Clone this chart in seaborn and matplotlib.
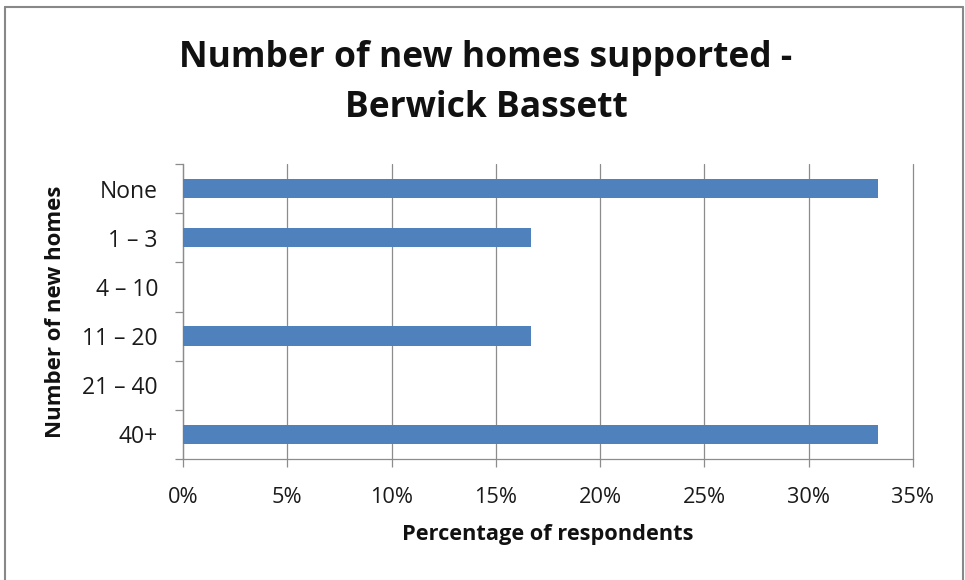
import matplotlib
matplotlib.use("Agg")
import matplotlib.pyplot as plt
from matplotlib.lines import Line2D
from matplotlib.ticker import MultipleLocator, FuncFormatter, FixedLocator
import seaborn as sns
import pandas as pd

categories = ["None", "1 \u2013 3", "4 \u2013 10", "11 \u2013 20", "21 \u2013 40", "40+"]
percentages = [33.33, 16.67, 0.0, 16.67, 0.0, 33.33]

title_lines = ["Number of new homes supported -", "Berwick Bassett"]
x_label = "Percentage of respondents"
y_label = "Number of new homes"

sns.set_theme(style="white")
plt.rcParams["font.family"] = ["Open Sans", "DejaVu Sans"]

df = pd.DataFrame({"category": categories, "pct": percentages})

W, H = 965, 580
fig = plt.figure(figsize=(W / 100, H / 100), dpi=100)
ax = fig.add_axes([183 / W, 1 - 459 / H, (913 - 183) / W, (459 - 164) / H])

sns.barplot(data=df, x="pct", y="category", order=categories, color="#4F81BD",
            saturation=1, width=0.39, linewidth=0, ax=ax, zorder=3)

grid_c = "#8C8C8C"
ax.set_xlim(0, 35)
ax.set_ylim(len(categories) - 0.5, -0.5)
ax.xaxis.set_major_locator(MultipleLocator(5))
ax.xaxis.set_major_formatter(FuncFormatter(lambda v, p: f"{v:.0f}%"))
ax.grid(axis="x", color=grid_c, linewidth=0.9, zorder=0)
ax.grid(axis="y", visible=False)
for gl in ax.get_xgridlines():
    gl.set_clip_on(False)

for s in ["top", "right"]:
    ax.spines[s].set_visible(False)
for s in ["left", "bottom"]:
    ax.spines[s].set_color(grid_c)
    ax.spines[s].set_linewidth(0.9)

# category boundary ticks on the y axis
ax.yaxis.set_minor_locator(FixedLocator([i - 0.5 for i in range(len(categories) + 1)]))
ax.tick_params(axis="y", which="major", length=0, pad=18, labelsize=16.5, labelcolor="#1a1a1a")
ax.tick_params(axis="y", which="minor", left=True, length=6, width=0.9, color=grid_c)
ax.tick_params(axis="x", which="major", bottom=True, length=6, width=0.9, color=grid_c,
               pad=14, labelsize=15.7, labelcolor="#1a1a1a")

ax.set_xlabel(x_label, fontsize=15.7, fontweight="bold", labelpad=12, color="#111111")
ax.set_ylabel(y_label, fontsize=16, fontweight="bold", labelpad=12, color="#111111")

fig.text(486 / W, 1 - 58 / H, title_lines[0], ha="center", va="center",
         fontsize=25.5, fontweight="bold", color="#111111")
fig.text(486 / W, 1 - 108 / H, title_lines[1], ha="center", va="center",
         fontsize=25.5, fontweight="bold", color="#111111")

# outer chart frame
frame_c = "#888888"
fx0, fx1, fy0 = 4.5 / W, 962.5 / W, 1 - 6.5 / H
for xs, ys in [([fx0, fx1], [fy0, fy0]), ([fx0, fx0], [fy0, 0]), ([fx1, fx1], [fy0, 0])]:
    fig.add_artist(Line2D(xs, ys, transform=fig.transFigure, color=frame_c, linewidth=1.5))

fig.savefig("out.png", dpi=100)
